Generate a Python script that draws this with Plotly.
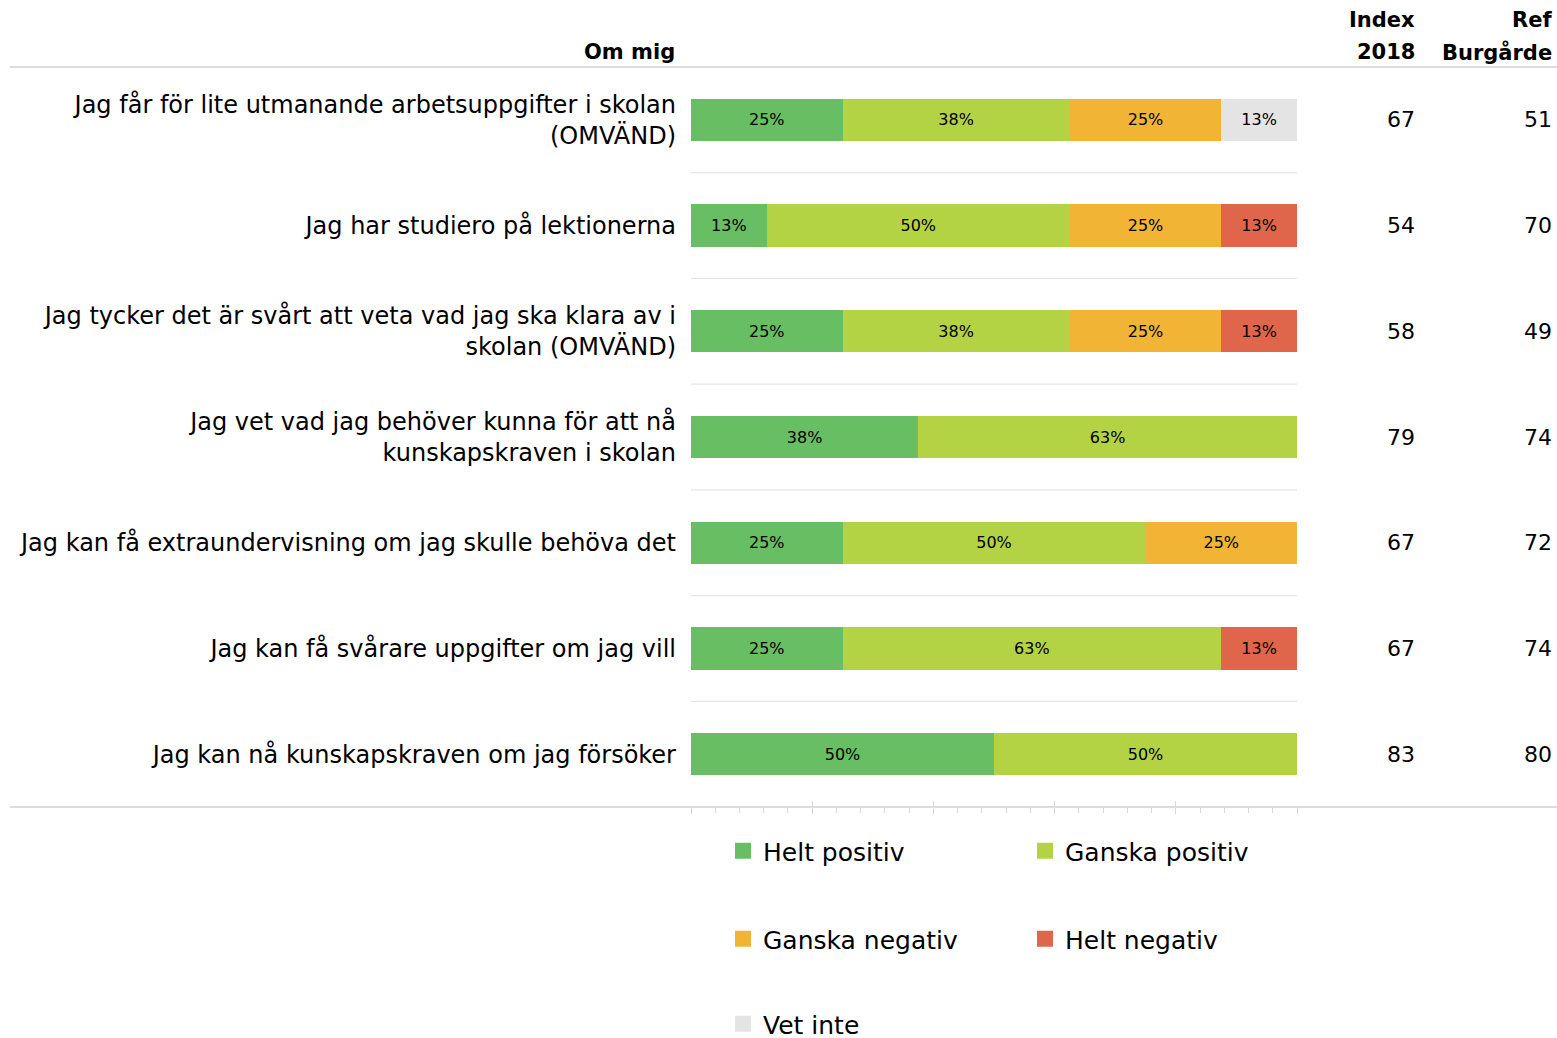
import plotly.graph_objects as go

categories = [
    "Jag får för lite utmanande arbetsuppgifter i skolan<br>(OMVÄND)",
    "Jag har studiero på lektionerna",
    "Jag tycker det är svårt att veta vad jag ska klara av i<br>skolan (OMVÄND)",
    "Jag vet vad jag behöver kunna för att nå<br>kunskapskraven i skolan",
    "Jag kan få extraundervisning om jag skulle behöva det",
    "Jag kan få svårare uppgifter om jag vill",
    "Jag kan nå kunskapskraven om jag försöker",
]
helt_positiv = [25, 12.5, 25, 37.5, 25, 25, 50]
ganska_positiv = [37.5, 50, 37.5, 62.5, 50, 62.5, 50]
ganska_negativ = [25, 25, 25, 0, 25, 0, 0]
helt_negativ = [0, 12.5, 12.5, 0, 0, 12.5, 0]
vet_inte = [12.5, 0, 0, 0, 0, 0, 0]
index_2018 = [67, 54, 58, 79, 67, 67, 83]
ref_burgarde = [51, 70, 49, 74, 72, 74, 80]

series = [
    ("Helt positiv", helt_positiv, "#67BE63", "legend"),
    ("Ganska positiv", ganska_positiv, "#B3D345", "legend"),
    ("Ganska negativ", ganska_negativ, "#F1B434", "legend2"),
    ("Helt negativ", helt_negativ, "#E0664B", "legend2"),
    ("Vet inte", vet_inte, "#E4E4E4", "legend3"),
]

FONT = "DejaVu Sans"
W, H = 1557, 1038
L, R, T, B = 691, 1557 - 1297, 67, 1038 - 807
PW = W - L - R
PH = H - T - B


def px_x(px):
    return (px - L) / PW


def px_y(py):
    return (H - B - py) / PH


fig = go.Figure()
ypos = list(range(len(categories)))
for name, vals, color, lg in series:
    fig.add_trace(go.Bar(
        y=ypos, x=vals, name=name, orientation="h",
        marker=dict(color=color, line=dict(width=0)),
        text=[f"{int(v + 0.5)}%" if v > 0 else "" for v in vals],
        textposition="inside", insidetextanchor="middle",
        textfont=dict(family=FONT, size=16, color="#000000"),
        textangle=0, constraintext="none",
        showlegend=False, hoverinfo="skip",
    ))
    # legend entry (square swatch)
    fig.add_trace(go.Scatter(
        x=[None], y=[None], mode="markers", name=name,
        marker=dict(symbol="square", size=16, color=color),
        legend=lg, showlegend=True, hoverinfo="skip",
    ))

# invisible trace for overlaid axis with up-ticks
fig.add_trace(go.Scatter(x=[0, 100], y=[0, 0], xaxis="x2", yaxis="y",
                         mode="markers", marker=dict(opacity=0),
                         showlegend=False, hoverinfo="skip"))

shapes = []
for i in range(len(categories) - 1):
    shapes.append(dict(type="line", xref="x", yref="y", x0=0, x1=100,
                       y0=i + 0.5, y1=i + 0.5,
                       line=dict(color="#E6E6E6", width=1.3), layer="below"))
for yv in (1, 0):
    shapes.append(dict(type="line", xref="paper", yref="paper",
                       x0=px_x(10), x1=px_x(1557), y0=yv, y1=yv,
                       line=dict(color="#DCDCDC", width=2)))

annotations = []
for i in range(len(categories)):
    annotations.append(dict(xref="paper", yref="y", x=px_x(1417), y=i,
                            text=str(index_2018[i]), showarrow=False,
                            xanchor="right", yanchor="middle",
                            font=dict(family=FONT, size=22, color="#000")))
    annotations.append(dict(xref="paper", yref="y", x=px_x(1554), y=i,
                            text=str(ref_burgarde[i]), showarrow=False,
                            xanchor="right", yanchor="middle",
                            font=dict(family=FONT, size=22, color="#000")))

header_font = dict(family=FONT, size=21, color="#000")
for text, xr, yc in [("Om mig", 677, 52),
                     ("Index", 1417, 20), ("2018", 1417, 52),
                     ("Ref", 1554, 20), ("Burgårde", 1554, 52)]:
    annotations.append(dict(xref="paper", yref="paper", x=px_x(xr), y=px_y(yc),
                            text=f"<b>{text}</b>", showarrow=False,
                            xanchor="right", yanchor="middle", font=header_font))

legend_common = dict(orientation="h", xanchor="left", yanchor="middle",
                     xref="container", yref="container",
                     font=dict(family=FONT, size=25, color="#000"),
                     entrywidth=257, entrywidthmode="pixels",
                     bgcolor="rgba(0,0,0,0)", traceorder="normal",
                     itemsizing="trace")
lx = 723 / W

fig.update_layout(
    width=W, height=H,
    margin=dict(l=L, r=R, t=T, b=B),
    barmode="stack", bargap=0.6,
    plot_bgcolor="white", paper_bgcolor="white",
    font=dict(family=FONT, size=22, color="#000"),
    xaxis=dict(range=[0, 100], showgrid=False, zeroline=False,
               showticklabels=False, showline=False,
               ticks="outside", tickmode="linear", tick0=0, dtick=20,
               ticklen=6, tickcolor="#D9D9D9", tickwidth=1.3,
               minor=dict(ticks="outside", dtick=4, ticklen=5,
                          tickcolor="#D9D9D9", tickwidth=1.3, showgrid=False),
               fixedrange=True),
    xaxis2=dict(range=[0, 100], overlaying="x", anchor="y", side="bottom",
                showgrid=False, zeroline=False, showticklabels=False,
                ticks="inside", tickmode="linear", tick0=0, dtick=20,
                ticklen=6, tickcolor="#D9D9D9", tickwidth=1.3),
    yaxis=dict(tickmode="array", tickvals=ypos, ticktext=categories,
               range=[len(categories) - 0.5, -0.5], showgrid=False,
               zeroline=False, showline=False, ticks="",
               ticklabelstandoff=14,
               tickfont=dict(family=FONT, size=24, color="#000")),
    shapes=shapes, annotations=annotations,
    legend=dict(x=lx, y=(H - 851) / H, **legend_common),
    legend2=dict(x=lx, y=(H - 939) / H, **legend_common),
    legend3=dict(x=lx, y=(H - 1024) / H, **legend_common),
)

fig.write_html("out.html", config={"displayModeBar": False},
               post_script="document.body.style.margin='0';document.body.style.overflow='hidden';")
